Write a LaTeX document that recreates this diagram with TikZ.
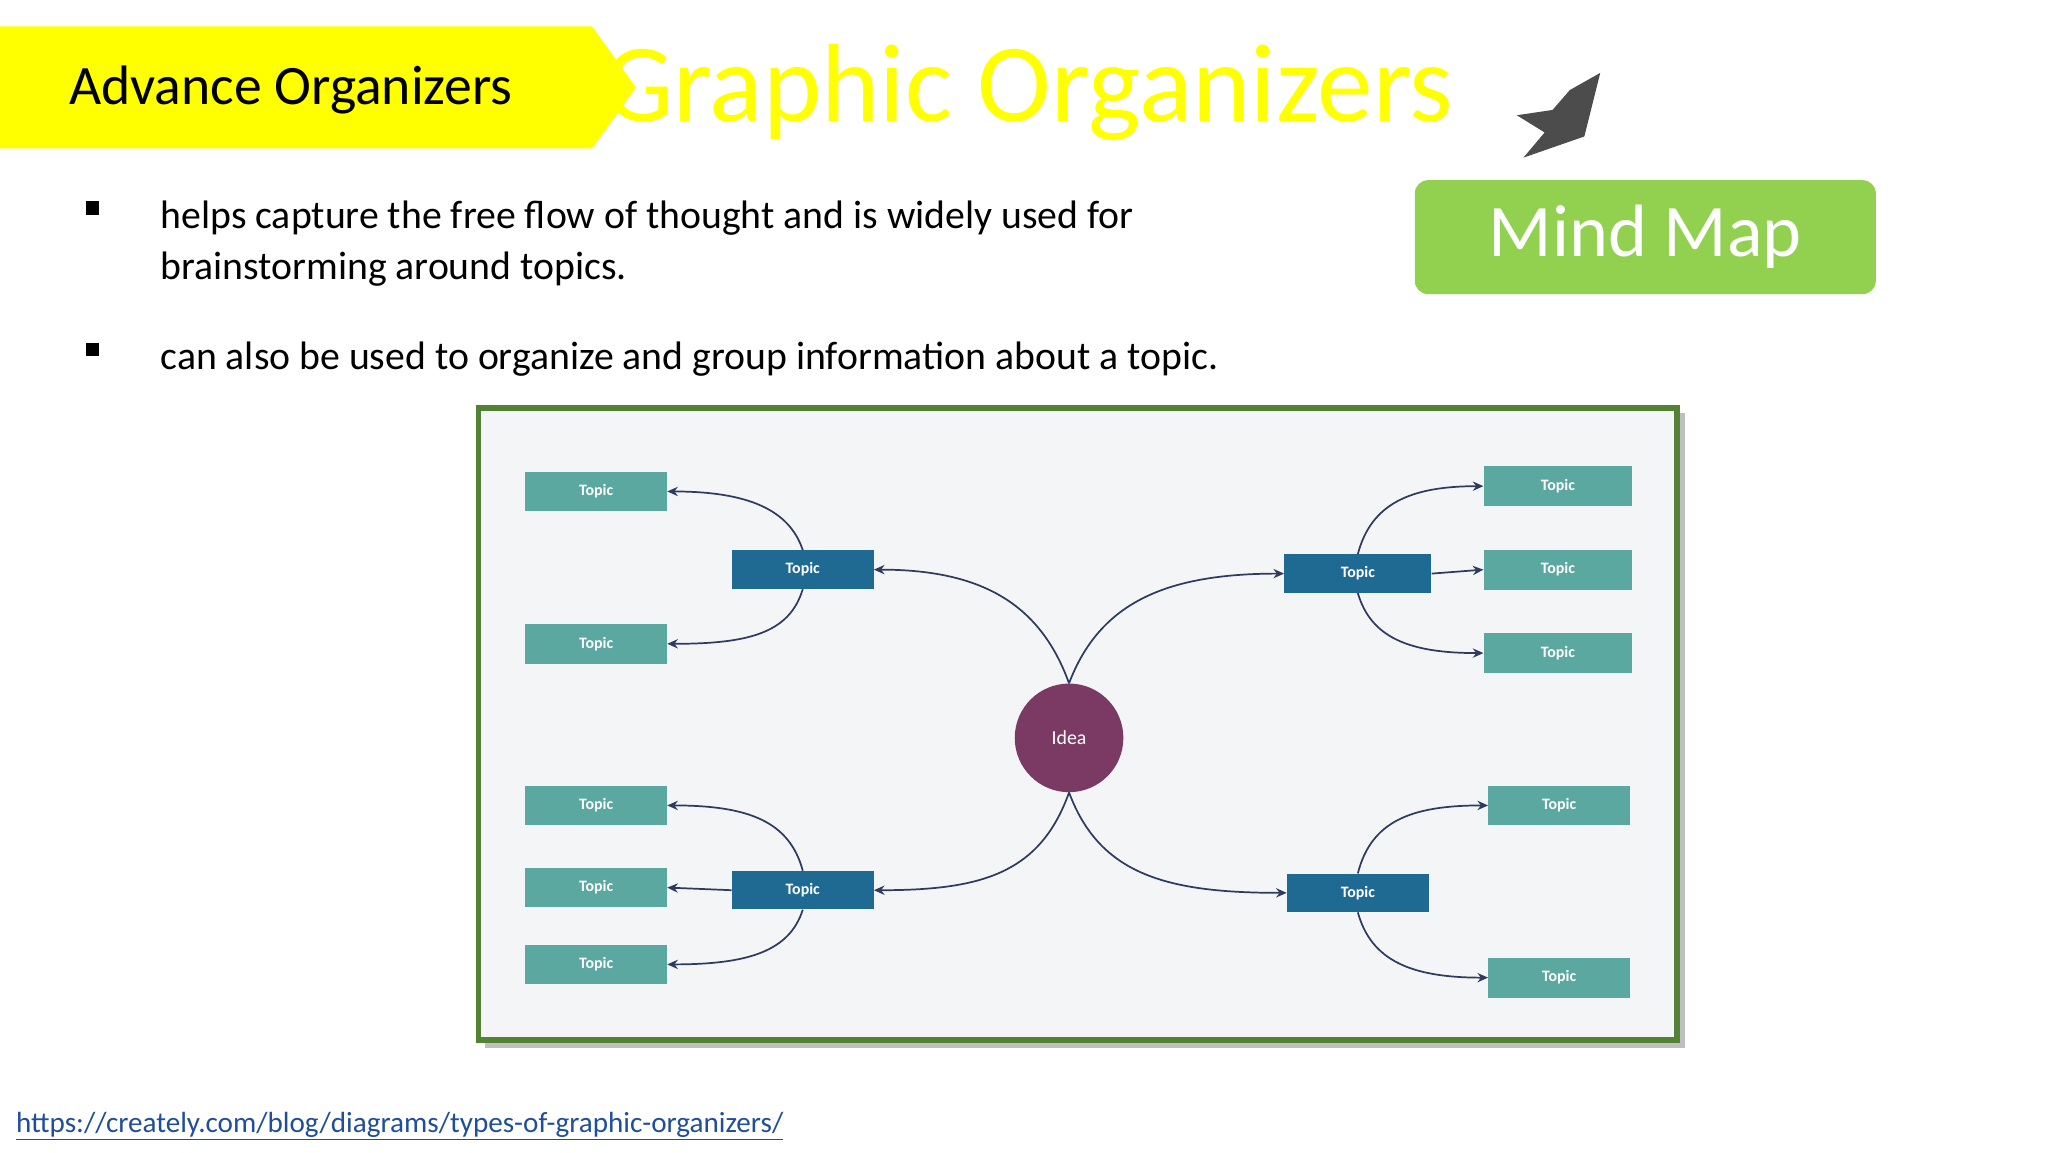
\documentclass[tikz,border=0pt]{standalone}
\usepackage{fontspec}
\setmainfont{Carlito}
\usetikzlibrary{arrows.meta}
\definecolor{ylw}{HTML}{FFFF00}
\definecolor{grn}{HTML}{92D050}
\definecolor{frame}{HTML}{548235}
\definecolor{bg}{HTML}{F4F5F6}
\definecolor{idea}{HTML}{7B3A63}
\definecolor{dk}{HTML}{1E6A93}
\definecolor{lt}{HTML}{5BA8A0}
\definecolor{ln}{HTML}{2E3B5E}
\definecolor{url}{HTML}{1F4E9A}
\tikzset{
 dkbox/.style={fill=dk,text=white,minimum width=107pt,minimum height=29pt,inner sep=0pt,font=\fontsize{12}{12}\selectfont\bfseries},
 ltbox/.style={fill=lt,text=white,minimum width=107pt,minimum height=30pt,inner sep=0pt,font=\fontsize{12}{12}\selectfont\bfseries},
 con/.style={draw=ln,line width=1.3pt,-{Stealth[length=8pt,width=7pt]}},
 bul/.style={anchor=west,font=\fontsize{30}{39}\selectfont,align=left,inner sep=0pt}
}
\begin{document}
\begin{tikzpicture}[x=1pt,y=-1pt]
\useasboundingbox (0,0) rectangle (1546,870);
\fill[white] (0,0) rectangle (1546,870);
% title
\node[anchor=west,text=ylw,font=\fontsize{84}{84}\selectfont,inner sep=0pt] (title) at (455,70) {Graphic Organizers};
\fill[ylw] (0,20) -- (447,20) -- (480,66) -- (447,112) -- (0,112) -- cycle;
\node[anchor=west,font=\fontsize{42}{42}\selectfont,inner sep=0pt] (adv) at (52,68) {Advance Organizers};
% gray arrow
\fill[black!70] (1208,55) -- (1196,103) -- (1150,119) -- (1166,100) -- (1145,87) -- (1172,83) -- (1185,68) -- cycle;
% mind map
\node[fill=grn,rounded corners=10pt,minimum width=348pt,minimum height=86pt,text=white,font=\fontsize{56}{56}\selectfont] (mm) at (1242,179) {Mind Map};
% bullets
\fill (65,152) rectangle (75,162);
\fill (65,259) rectangle (75,269);
\node[bul] (b1) at (121,184) {helps capture the free flow of thought and is widely used for\\brainstorming around topics.};
\node[bul] (b2) at (121,271) {can also be used to organize and group information about a topic.};
% frame
\fill[black!25] (366,312) rectangle (1272,791);
\draw[frame,line width=4pt,fill=bg] (361,308) rectangle (1266,785);
\node[circle,fill=idea,minimum size=82pt,text=white,font=\fontsize{15}{15}\selectfont] (idea) at (807,557) {Idea};
\node[dkbox] (d1) at (606,430) {Topic};
\node[dkbox,minimum width=111pt] (d2) at (1025,433) {Topic};
\node[dkbox] (d3) at (606,672) {Topic};
\node[dkbox] (d4) at (1025,674) {Topic};
\node[ltbox] (l1) at (450,371) {Topic};
\node[ltbox] (l2) at (450,486) {Topic};
\node[ltbox] (l3) at (450,608) {Topic};
\node[ltbox] (l4) at (450,670) {Topic};
\node[ltbox] (l5) at (450,728) {Topic};
\node[ltbox,minimum width=112pt] (r1) at (1176,367) {Topic};
\node[ltbox,minimum width=112pt] (r2) at (1176,430) {Topic};
\node[ltbox,minimum width=112pt] (r3) at (1176,493) {Topic};
\node[ltbox] (r4) at (1177,608) {Topic};
\node[ltbox] (r5) at (1177,738) {Topic};
% connectors
\draw[con] (idea.north) .. controls (785,455) and (740,430) .. (d1.east);
\draw[con] (idea.north) .. controls (830,455) and (880,433) .. (d2.west);
\draw[con] (idea.south) .. controls (785,660) and (740,672) .. (d3.east);
\draw[con] (idea.south) .. controls (830,660) and (880,674) .. (d4.west);
\draw[con] (d1.north) .. controls (596,385) and (565,371) .. (l1.east);
\draw[con] (d1.south) .. controls (596,478) and (565,486) .. (l2.east);
\draw[con] (d3.north) .. controls (596,620) and (565,608) .. (l3.east);
\draw[con] (d3.west) -- (l4.east);
\draw[con] (d3.south) .. controls (596,718) and (565,728) .. (l5.east);
\draw[con] (d2.north) .. controls (1035,380) and (1065,367) .. (r1.west);
\draw[con] (d2.east) -- (r2.west);
\draw[con] (d2.south) .. controls (1035,482) and (1065,493) .. (r3.west);
\draw[con] (d4.north) .. controls (1035,620) and (1065,608) .. (r4.west);
\draw[con] (d4.south) .. controls (1035,725) and (1065,738) .. (r5.west);
% url
\node[anchor=west,inner sep=0pt,text=url,font=\fontsize{22}{22}\selectfont] (u) at (12,850) {\underline{https://creately.com/blog/diagrams/types-of-graphic-organizers/}};
\end{tikzpicture}
\end{document}
